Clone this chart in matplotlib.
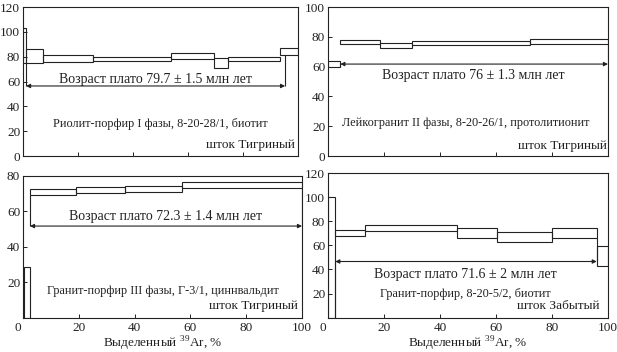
import matplotlib.pyplot as plt
import matplotlib.transforms as mtransforms

plt.rcParams['font.family'] = ['Liberation Serif', 'DejaVu Serif']
plt.rcParams['mathtext.fontset'] = 'custom'
plt.rcParams['mathtext.rm'] = 'Liberation Serif'

ink = '#222222'

# step spectra: cumulative 39Ar edges (%), age lower / upper (Ma)
tl_edges = [0, 1.1, 7.1, 25.5, 53.7, 69.6, 74.4, 93.5, 100]
tl_lo = [74.6, 75.2, 76.0, 76.8, 77.9, 71.2, 76.8, 81.3]
tl_hi = [102.8, 85.9, 81.3, 80.0, 82.7, 78.7, 80.0, 86.7]

tr_edges = [0, 4.4, 18.6, 29.9, 72.1, 100]
tr_lo = [59.9, 75.2, 72.3, 74.5, 75.0]
tr_hi = [63.8, 77.9, 76.0, 77.2, 78.3]

bl_edges = [0.4, 2.4, 19.0, 36.5, 56.9, 100]
bl_lo = [0, 69.1, 70.6, 71.0, 73.5]
bl_hi = [29.0, 72.5, 73.8, 74.4, 76.6]

br_edges = [0, 2.6, 13.3, 46.0, 60.4, 80.0, 96.0, 100]
br_lo = [0, 67.4, 72.0, 66.0, 63.0, 66.0, 42.5]
br_hi = [100.0, 72.9, 76.7, 74.8, 71.2, 74.2, 59.7]

# plateau: start %, end %, arrow level
tl_plateau = (1.1, 95.3, 56.4)
tr_plateau = (4.4, 100, 61.7)
bl_plateau = (2.5, 100, 51.8)
br_plateau = (2.6, 96.0, 46.6)

panels = [
    dict(edges=tl_edges, lo=tl_lo, hi=tl_hi, plateau=tl_plateau,
         ymax=120, yticks=[0, 20, 40, 60, 80, 100, 120],
         age='Возраст плато 79.7 ± 1.5 млн лет', age_xy=(48, 62),
         sample='Риолит-порфир I фазы, 8-20-28/1, биотит', sample_xy=(50, 26),
         stock='шток Тигриный', stock_xy=(99, 8.5),
         rect=[0.0373, 0.5568, 0.4457, 0.4233], bottom=False),
    dict(edges=tr_edges, lo=tr_lo, hi=tr_hi, plateau=tr_plateau,
         ymax=100, yticks=[0, 20, 40, 60, 80, 100],
         age='Возраст плато 76 ± 1.3 млн лет', age_xy=(52, 54),
         sample='Лейкогранит II фазы, 8-20-26/1, протолитионит', sample_xy=(49, 22),
         stock='шток Тигриный', stock_xy=(99.5, 7),
         rect=[0.5316, 0.5568, 0.4538, 0.4233], bottom=False),
    dict(edges=bl_edges, lo=bl_lo, hi=bl_hi, plateau=bl_plateau,
         ymax=80, yticks=[20, 40, 60, 80],
         age='Возраст плато 72.3 ± 1.4 млн лет', age_xy=(51, 57),
         sample='Гранит-порфир III фазы, Г-3/1, циннвальдит', sample_xy=(50, 15),
         stock='шток Тигриный', stock_xy=(98.5, 6.5),
         rect=[0.0373, 0.0966, 0.4522, 0.4034], bottom=True),
    dict(edges=br_edges, lo=br_lo, hi=br_hi, plateau=br_plateau,
         ymax=120, yticks=[20, 40, 60, 80, 100, 120],
         age='Возраст плато 71.6 ± 2 млн лет', age_xy=(49, 35.5),
         sample='Гранит-порфир, 8-20-5/2, биотит', sample_xy=(49, 20),
         stock='шток Забытый', stock_xy=(97, 10),
         rect=[0.5316, 0.0975, 0.4538, 0.4110], bottom=True),
]

fig = plt.figure(figsize=(6.17, 3.52), dpi=100)

for p in panels:
    ax = fig.add_axes(p['rect'])
    edges = p['edges']
    widths = [edges[i + 1] - edges[i] for i in range(len(p['lo']))]
    heights = [h - l for h, l in zip(p['hi'], p['lo'])]
    ax.bar(edges[:-1], heights, width=widths, bottom=p['lo'], align='edge',
           fill=False, edgecolor=ink, linewidth=0.8, clip_on=True)

    x0, x1, ya = p['plateau']
    ax.annotate('', xy=(x1, ya), xytext=(x0, ya),
                arrowprops=dict(arrowstyle='<|-|>', color=ink, lw=0.8,
                                mutation_scale=6, shrinkA=0, shrinkB=0))
    # plateau end markers
    for xe in (x0, x1):
        for i in range(len(p['lo'])):
            if edges[i] <= xe <= edges[i + 1]:
                ax.vlines(xe, ya, p['lo'][i], color=ink, lw=0.8)
                break

    ax.text(*p['age_xy'], p['age'], ha='center', va='center', fontsize=10, color=ink)
    ax.text(*p['sample_xy'], p['sample'], ha='center', va='center', fontsize=8.8, color=ink)
    ax.text(*p['stock_xy'], p['stock'], ha='right', va='center', fontsize=9.5, color=ink)

    ax.set_xlim(0, 100)
    ax.set_ylim(0, p['ymax'])
    ax.set_xticks([0, 20, 40, 60, 80, 100])
    ax.set_yticks(p['yticks'])
    ax.tick_params(direction='in', length=3, width=0.7, colors=ink,
                   labelsize=9.5, pad=2)
    ax.tick_params(axis='x', pad=3)
    for s in ax.spines.values():
        s.set_color(ink)
        s.set_linewidth(0.8)
    if p['bottom']:
        ax.set_xlabel('Выделенный $^{39}$Ar, %', fontsize=9.5, color=ink, labelpad=0.5)
        # the "0" label sits a little left of the axis corner
        off = mtransforms.ScaledTranslation(-5 / 100, 0, fig.dpi_scale_trans)
        lab0 = ax.get_xticklabels()[0]
        lab0.set_transform(lab0.get_transform() + off)
    else:
        ax.set_xticklabels([])

fig.savefig('out.png', dpi=100)
